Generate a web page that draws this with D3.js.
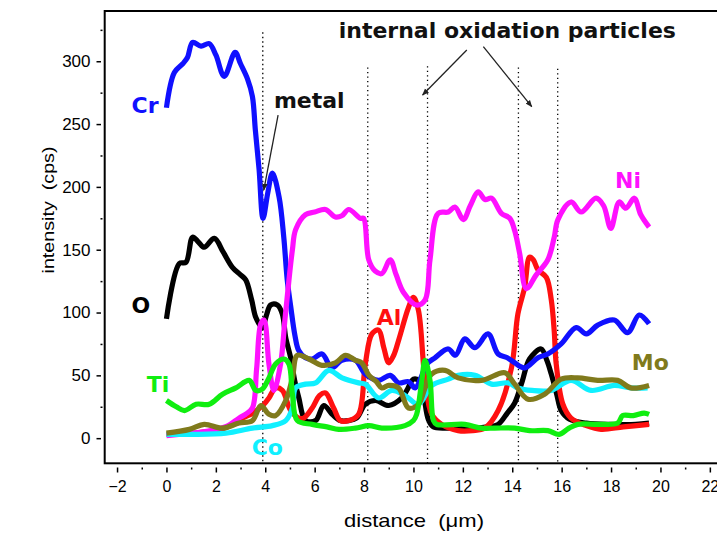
<!DOCTYPE html>
<html>
<head>
<meta charset="utf-8">
<script src="https://cdnjs.cloudflare.com/ajax/libs/d3/7.8.5/d3.min.js"></script>
<style>
body { margin: 0; background: #fff; }
text { font-family: "Liberation Sans", Arial, sans-serif; }
.lbl { font-family: "DejaVu Sans", Verdana, sans-serif; font-weight: bold; font-size: 22px; }
</style>
</head>
<body>
<div id="chart"></div>
<script>
// line scan values, x in um, y in cps
var crData = [[0,263],[0.32,291],[0.66,298],[0.85,303],[1.06,315],[1.4,312],[1.73,314],[2.0,305],[2.34,288],[2.78,307],[3.0,298],[3.28,286],[3.48,272],[3.6,245],[3.75,214],[3.91,175],[4.1,195],[4.29,211],[4.56,192],[4.75,160],[4.89,126],[5.03,105],[5.2,82],[5.35,70],[5.63,64],[5.9,63],[6.3,67],[6.7,56],[7.1,62],[7.65,62],[8.05,51],[8.59,46],[9.06,50],[9.4,44],[9.8,45],[10.07,40],[10.3,48],[10.54,59],[10.87,64],[11.41,71],[11.7,66],[12.08,79],[12.49,72],[13.02,83],[13.43,67],[13.8,64],[14.1,60],[14.5,56],[15.04,64],[15.44,67],[15.98,75],[16.59,88],[17.0,83],[17.46,90],[18.13,94],[18.67,84],[19.14,98],[19.54,91]];
var niData = [[0,2],[0.5,3],[1.0,4],[1.5,5],[2.0,7],[2.5,10],[2.94,16],[3.2,19],[3.48,24],[3.65,55],[3.82,91],[3.95,94],[4.15,59],[4.35,38],[4.62,59],[4.8,95],[4.96,126],[5.1,150],[5.23,166],[5.63,178],[6.0,180],[6.44,182],[6.84,176],[7.1,177],[7.38,182],[7.85,175],[7.98,175],[8.19,142],[8.45,133],[8.72,131],[9.06,142],[9.3,130],[9.6,116],[10.13,106],[10.47,110],[10.67,142],[11.0,179],[11.41,180],[11.68,184],[12.02,174],[12.3,185],[12.62,196],[12.9,190],[13.16,191],[13.56,179],[13.9,175],[14.1,165],[14.3,147],[14.57,119],[14.97,130],[15.44,142],[15.7,160],[15.85,174],[16.38,188],[16.79,180],[17.39,191],[17.7,185],[17.99,167],[18.33,188],[18.6,183],[18.94,191],[19.2,178],[19.54,168]];
var oData = [[0,95],[0.52,139],[0.79,140],[1.06,160],[1.3,156],[1.53,152],[1.94,159],[2.3,148],[2.67,136],[3.0,130],[3.21,126],[3.45,110],[3.62,96],[3.88,88],[4.05,98],[4.22,106],[4.49,106],[4.69,99],[4.83,80],[5.03,64],[5.2,45],[5.36,32],[5.63,14],[6.04,14],[6.37,26],[6.71,19],[7.04,14],[7.38,14],[7.7,16],[8.05,27],[8.46,30],[9.0,26],[9.53,32],[9.73,38],[10.0,47],[10.2,46],[10.4,35],[10.6,15],[10.8,9],[11.5,8],[12.5,8],[13.0,9],[13.43,11],[13.8,20],[14.1,28],[14.4,45],[14.7,63],[15.17,71],[15.4,62],[15.58,51],[15.8,35],[15.98,22],[16.32,15],[17,12],[18,11],[19,11],[19.54,12]];
var alData = [[0,3],[1,4],[2,6],[2.6,10],[3.08,16],[3.5,20],[3.95,27],[4.15,32],[4.42,40],[4.69,38],[5.03,22],[5.36,16],[5.56,16],[5.9,24],[6.2,34],[6.44,36],[6.77,24],[7.04,14],[7.38,14],[7.78,19],[8.05,59],[8.32,83],[8.59,86],[8.8,72],[9.0,60],[9.2,66],[9.4,78],[9.8,104],[10.0,112],[10.2,102],[10.47,46],[10.74,19],[11.14,11],[11.81,6],[12.4,6],[12.89,8],[13.43,22],[13.97,56],[14.23,99],[14.5,120],[14.7,144],[14.85,142],[15.04,134],[15.38,128],[15.58,110],[15.7,85],[15.78,59],[16.05,27],[16.38,16],[17.0,10],[17.6,7],[18.5,9],[19.54,11]];
var tiData = [[0,30],[0.4,25],[0.73,22],[1.2,27],[1.73,27],[2.27,35],[2.81,40],[3.35,46],[3.62,38],[3.88,39],[4.15,48],[4.42,59],[4.76,63],[4.96,59],[5.1,35],[5.3,14],[5.9,11],[6.5,9],[6.98,7],[7.65,8],[8.2,10],[8.72,8],[9.66,10],[10.0,14],[10.13,19],[10.34,46],[10.47,62],[10.67,46],[10.81,14],[10.94,11],[12.08,11],[12.76,8],[13.29,8],[14.1,8],[14.7,6],[15.44,6],[15.9,3],[16.3,8],[16.65,11],[17.5,11],[18.27,12],[18.47,18],[18.9,18],[19.34,20],[19.54,19]];
var coData = [[0,3],[1,3],[2.41,4],[3.48,8],[4.29,10],[4.83,14],[5.1,24],[5.23,40],[5.63,43],[6.04,44],[6.57,54],[7.11,48],[7.78,44],[8.05,43],[8.59,32],[9.13,38],[9.66,34],[10.2,27],[10.74,42],[11.41,47],[11.81,50],[12.49,50],[13.16,43],[13.83,44],[14.23,40],[14.8,38],[15.58,38],[16.38,46],[17.19,38],[18.13,42],[18.8,40],[19.48,40]];
var moData = [[0,4],[0.93,7],[1.53,11],[2.27,8],[2.94,12],[3.48,14],[3.82,26],[4.15,19],[4.42,18],[4.83,30],[5.1,48],[5.3,66],[5.77,63],[6.3,58],[6.84,60],[7.25,66],[7.65,62],[7.9,60],[8.2,50],[8.5,45],[8.72,40],[9.0,42],[9.4,40],[9.8,24],[10.2,27],[10.47,40],[10.74,51],[11.28,54],[11.81,48],[12.76,46],[13.7,52],[14.1,43],[14.64,31],[15.31,35],[15.98,47],[16.65,48],[17.46,46],[18.27,46],[18.8,40],[19.54,42]];

var seriesNames = ["O", "Al", "Cr", "Ni", "Co", "Mo", "Ti"];
var seriesData = [oData, alData, crData, niData, coData, moData, tiData];
var seriesColors = ["#000000", "#ff1010", "#1010ff", "#ff10ff", "#10f0ff", "#807a1c", "#10ee10"];
// label anchor (left x, baseline y) in data units
var labelX = [-1.41, 8.51, -1.41, 18.16, 3.45, 18.84, -0.8];
var labelY = [99.7, 90.1, 259, 199.1, -13.4, 54.3, 36.8];

var xTicks = [-2, 0, 2, 4, 6, 8, 10, 12, 14, 16, 18, 20, 22];
var xMinor = [-1, 1, 3, 5, 7, 9, 11, 13, 15, 17, 19, 21];
var yTicks = [0, 50, 100, 150, 200, 250, 300];
var yMinor = [25, 75, 125, 175, 225, 275, 325];

// dotted guide lines: position and top end
var guideX = [3.9, 8.15, 10.57, 14.25, 15.84];
var guideTop = [323, 295, 296, 295, 294];

var W = 717, H = 535;
var x = d3.scaleLinear().domain([-2.5, 22.5]).range([104.7, 722.2]);
var y = d3.scaleLinear().domain([-20, 340]).range([463.3, 11]);

var svg = d3.select("#chart").append("svg")
	.attr("width", W)
	.attr("height", H);

svg.append("defs").append("marker")
	.attr("id", "head")
	.attr("viewBox", "0 0 10 10")
	.attr("refX", 9).attr("refY", 5)
	.attr("markerWidth", 7).attr("markerHeight", 7)
	.attr("markerUnits", "userSpaceOnUse")
	.attr("orient", "auto")
	.append("path")
		.attr("d", "M0,1 L10,5 L0,9 Z")
		.attr("fill", "#222");

// frame
svg.append("rect")
	.attr("x", x(-2.5))
	.attr("y", y(340))
	.attr("width", x(22.5) - x(-2.5))
	.attr("height", y(-20) - y(340))
	.attr("fill", "none")
	.attr("stroke", "#000")
	.attr("stroke-width", 2);

// axes, ticks sit a little off the frame
var xAxis = svg.append("g")
	.attr("transform", "translate(0,467.5)")
	.call(d3.axisBottom(x).tickValues(xTicks).tickSize(5).tickPadding(8));
xAxis.select(".domain").remove();
xAxis.selectAll("text").style("font-size", "16px").style("font-family", "'Liberation Sans', Arial");
xAxis.selectAll("line").attr("stroke-width", 1.5);
svg.append("g")
	.attr("transform", "translate(0,467.5)")
	.call(d3.axisBottom(x).tickValues(xMinor).tickSize(2).tickFormat(""))
	.call(function(g) { g.select(".domain").remove(); g.selectAll("line").attr("stroke-width", 1.5); });

var yAxis = svg.append("g")
	.attr("transform", "translate(101,0)")
	.call(d3.axisLeft(y).tickValues(yTicks).tickSize(4.5).tickPadding(6));
yAxis.select(".domain").remove();
yAxis.selectAll("text").style("font-size", "17px").style("font-family", "'Liberation Sans', Arial");
yAxis.selectAll("line").attr("stroke-width", 1.5);
svg.append("g")
	.attr("transform", "translate(102.5,0)")
	.call(d3.axisLeft(y).tickValues(yMinor).tickSize(2).tickFormat(""))
	.call(function(g) { g.select(".domain").remove(); g.selectAll("line").attr("stroke-width", 1.5); });

svg.append("text")
	.attr("x", 414)
	.attr("y", 527)
	.attr("text-anchor", "middle")
	.attr("textLength", 140)
	.attr("lengthAdjust", "spacingAndGlyphs")
	.style("font-size", "19px")
	.style("white-space", "pre")
	.text("distance  (\u03bcm)");

svg.append("text")
	.attr("transform", "translate(54,210) rotate(-90)")
	.attr("text-anchor", "middle")
	.attr("textLength", 127)
	.attr("lengthAdjust", "spacingAndGlyphs")
	.style("font-size", "17px")
	.style("white-space", "pre")
	.text("intensity  (cps)");

// dotted guides
svg.selectAll(".guide")
	.data(guideX)
	.enter()
	.append("line")
		.attr("class", "guide")
		.attr("x1", function(d) { return x(d); })
		.attr("x2", function(d) { return x(d); })
		.attr("y1", function(d, i) { return y(guideTop[i]); })
		.attr("y2", y(-20))
		.attr("stroke", "#000")
		.attr("stroke-width", 1.3)
		.attr("stroke-dasharray", "1.3,3.2");

var line = d3.line()
	.x(function(d) { return x(d[0]); })
	.y(function(d) { return y(d[1]); })
	.curve(d3.curveCatmullRom.alpha(0.5));

svg.selectAll(".series")
	.data(seriesData)
	.enter()
	.append("path")
		.attr("class", "series")
		.attr("d", line)
		.attr("fill", "none")
		.attr("stroke", function(d, i) { return seriesColors[i]; })
		.attr("stroke-width", 5.2)
		.attr("stroke-linejoin", "round")
		.attr("stroke-linecap", "butt");

svg.selectAll(".name")
	.data(seriesNames)
	.enter()
	.append("text")
		.attr("class", "lbl name")
		.attr("x", function(d, i) { return x(labelX[i]); })
		.attr("y", function(d, i) { return y(labelY[i]); })
		.attr("fill", function(d, i) { return seriesColors[i]; })
		.text(function(d) { return d; });

// annotations
svg.append("text")
	.attr("class", "lbl")
	.attr("x", x(4.35))
	.attr("y", y(262.7))
	.attr("fill", "#111")
	.text("metal");
svg.append("text")
	.attr("class", "lbl")
	.attr("x", x(13.8))
	.attr("y", y(318.9))
	.attr("text-anchor", "middle")
	.attr("fill", "#111")
	.text("internal oxidation particles");

var arrows = [[4.52, 257.2, 3.94, 197.5], [12.16, 309, 10.37, 273.2], [12.83, 311.6, 14.79, 263.9]];
svg.selectAll(".arrow")
	.data(arrows)
	.enter()
	.append("line")
		.attr("class", "arrow")
		.attr("x1", function(d) { return x(d[0]); })
		.attr("y1", function(d) { return y(d[1]); })
		.attr("x2", function(d) { return x(d[2]); })
		.attr("y2", function(d) { return y(d[3]); })
		.attr("stroke", "#222")
		.attr("stroke-width", 1.3)
		.attr("marker-end", "url(#head)");
</script>
</body>
</html>
